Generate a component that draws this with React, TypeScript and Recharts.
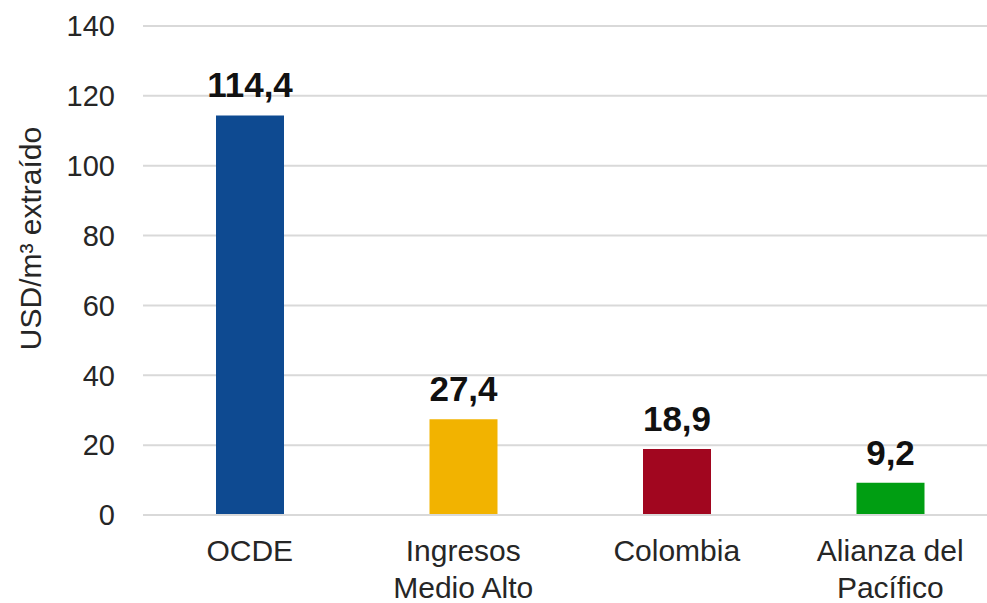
import { BarChart, Bar, XAxis, YAxis, CartesianGrid, Cell, LabelList, Label } from 'recharts'

const categories = ['OCDE', 'Ingresos\nMedio Alto', 'Colombia', 'Alianza del\nPacífico']
const values = [114.4, 27.4, 18.9, 9.2]
const barColors = ['#0E4A91', '#F2B300', '#A1061F', '#009E12']
const yTicks = [0, 20, 40, 60, 80, 100, 120, 140]

const data = categories.map((name, i) => ({ name, value: values[i] }))

const FONT = '"Liberation Sans", Arial, sans-serif'
const TEXT = '#262626'

function CategoryTick({ x, y, payload }: any) {
  const lines = String(payload.value).split('\n')
  return (
    <text x={x} y={y} textAnchor="middle" fontSize={30} fill={TEXT} fontFamily={FONT}>
      {lines.map((line, i) => (
        <tspan key={i} x={x} dy={i === 0 ? 46 : 37}>{line}</tspan>
      ))}
    </text>
  )
}

function AxisTitle({ viewBox }: any) {
  const cx = viewBox.x + 30
  const cy = viewBox.y + viewBox.height / 2 - 32
  return (
    <text
      x={cx}
      y={cy}
      transform={`rotate(-90, ${cx}, ${cy})`}
      textAnchor="middle"
      dominantBaseline="central"
      fontSize={30}
      fill={TEXT}
      fontFamily={FONT}
    >
      USD/m³ extraído
    </text>
  )
}

export default function App() {
  return (
    <div
      style={{
        position: 'absolute',
        left: 0,
        top: 0,
        width: 987,
        height: 603,
        overflow: 'hidden',
        background: '#fff',
      }}
    >
      <BarChart
        width={1000}
        height={603}
        data={data}
        margin={{ top: 26, right: 3, left: 0, bottom: 0 }}
      >
        <CartesianGrid vertical={false} stroke="#d9d9d9" strokeWidth={2} />
        <XAxis
          dataKey="name"
          height={88}
          interval={0}
          tickLine={false}
          tickSize={0}
          tickMargin={0}
          axisLine={{ stroke: '#d9d9d9', strokeWidth: 2 }}
          tick={<CategoryTick />}
        />
        <YAxis
          width={143}
          domain={[0, 140]}
          ticks={yTicks}
          interval={0}
          axisLine={false}
          tickLine={false}
          tickSize={0}
          tickMargin={28}
          tick={{ fontSize: 29, fill: TEXT, fontFamily: FONT }}
        >
          <Label content={<AxisTitle />} />
        </YAxis>
        <Bar dataKey="value" barSize={68} isAnimationActive={false}>
          {data.map((d, i) => (
            <Cell key={d.name} fill={barColors[i]} />
          ))}
          <LabelList
            dataKey="value"
            position="top"
            offset={18}
            formatter={(v: any) => Number(v).toFixed(1).replace('.', ',')}
            style={{ fontSize: 35, fontWeight: 'bold', fill: '#111', fontFamily: FONT }}
          />
        </Bar>
      </BarChart>
    </div>
  )
}
